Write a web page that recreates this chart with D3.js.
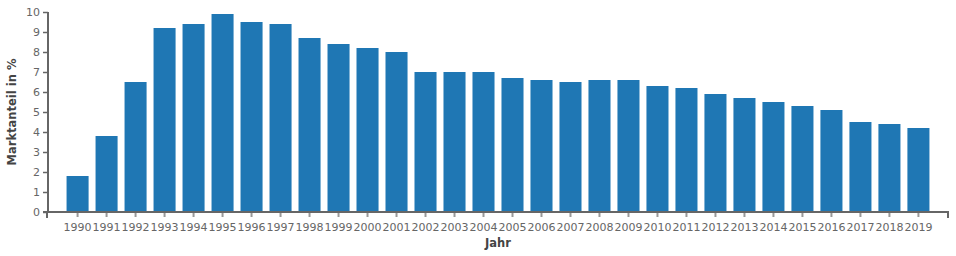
<!DOCTYPE html>
<html>
<head>
<meta charset="utf-8">
<script src="https://d3js.org/d3.v7.min.js"></script>
<style>
  body { margin: 0; background: #fff; }
  .tick text { font-family: "DejaVu Sans", sans-serif; font-size: 11px; fill: #666; }
  .axisText { font-family: "DejaVu Sans", sans-serif; font-size: 11.5px; font-weight: bold; fill: #444; }
</style>
</head>
<body>
<div class="chart"></div>
<script>
// data
var years = ["1990","1991","1992","1993","1994","1995","1996","1997","1998","1999",
  "2000","2001","2002","2003","2004","2005","2006","2007","2008","2009",
  "2010","2011","2012","2013","2014","2015","2016","2017","2018","2019"];
var shares = [1.8, 3.8, 6.5, 9.2, 9.4, 9.9, 9.5, 9.4, 8.7, 8.4,
  8.2, 8.0, 7.0, 7.0, 7.0, 6.7, 6.6, 6.5, 6.6, 6.6,
  6.3, 6.2, 5.9, 5.7, 5.5, 5.3, 5.1, 4.5, 4.4, 4.2];
var yTicks = [0, 1, 2, 3, 4, 5, 6, 7, 8, 9, 10];

var svgWidth = 956, svgHeight = 256;
var margin = { top: 12, right: 8, bottom: 44, left: 48 };
var width = svgWidth - margin.left - margin.right;
var height = svgHeight - margin.top - margin.bottom;

var svg = d3.select(".chart").append("svg")
  .attr("width", svgWidth)
  .attr("height", svgHeight);

var chartGroup = svg.append("g")
  .attr("transform", `translate(${margin.left}, ${margin.top})`);

var xBandScale = d3.scaleBand()
  .domain(years)
  .range([0, width])
  .paddingInner(0.24)
  .paddingOuter(0.64);

var yLinearScale = d3.scaleLinear()
  .domain([0, 10])
  .range([height, 0]);

// bars
chartGroup.selectAll(".bar")
  .data(years)
  .enter()
  .append("rect")
  .attr("class", "bar")
  .attr("x", d => xBandScale(d))
  .attr("y", (d, i) => yLinearScale(shares[i]))
  .attr("width", xBandScale.bandwidth())
  .attr("height", (d, i) => height - yLinearScale(shares[i]))
  .attr("fill", "#1f77b4");

// axes
var xAxis = d3.axisBottom(xBandScale).tickSize(5).tickPadding(6);
var yAxis = d3.axisLeft(yLinearScale).tickValues(yTicks).tickSize(5).tickPadding(3);

var xg = chartGroup.append("g")
  .attr("transform", `translate(0, ${height})`)
  .call(xAxis);
xg.select(".domain").remove();
xg.selectAll(".tick line").attr("stroke", "#999").attr("stroke-width", 2);

var yg = chartGroup.append("g").call(yAxis);
yg.select(".domain").remove();
yg.selectAll(".tick line").attr("stroke", "#666").attr("stroke-width", 1.5);

// axis lines drawn as paths so the ends match the look
chartGroup.append("path")
  .attr("d", `M0,0V${height}`)
  .attr("stroke", "#666").attr("stroke-width", 2).attr("fill", "none");
chartGroup.append("path")
  .attr("d", `M-5,${height}H${width}V${height + 6}M-1,${height}V${height + 6}`)
  .attr("stroke", "#666").attr("stroke-width", 2).attr("fill", "none");

// axis titles
chartGroup.append("text")
  .attr("class", "axisText")
  .attr("transform", "rotate(-90)")
  .attr("x", -height / 2)
  .attr("y", -margin.left + 16)
  .attr("text-anchor", "middle")
  .text("Marktanteil in %");

chartGroup.append("text")
  .attr("class", "axisText")
  .attr("x", width / 2)
  .attr("y", height + 35)
  .attr("text-anchor", "middle")
  .text("Jahr");
</script>
</body>
</html>
